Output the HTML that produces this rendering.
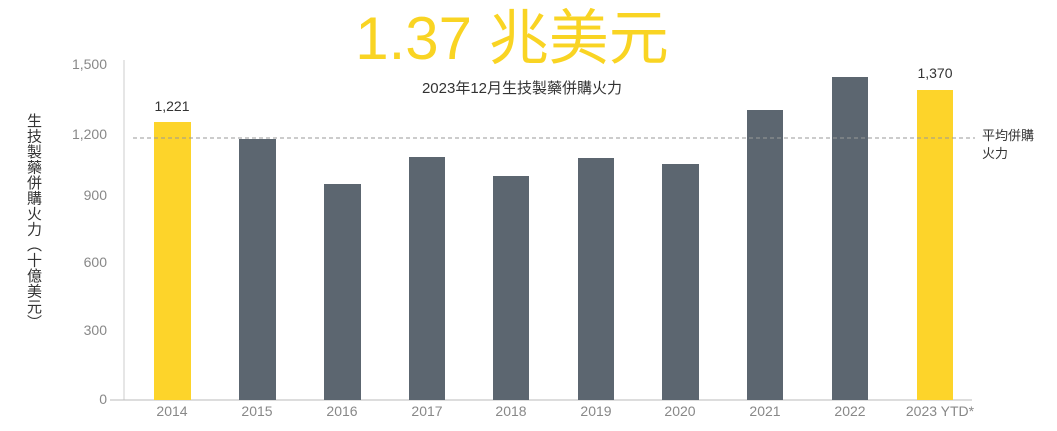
<!DOCTYPE html>
<html><head><meta charset="utf-8"><style>
body{margin:0;width:1057px;height:431px;background:#fff;overflow:hidden;font-family:"Liberation Sans","Noto Sans CJK TC",sans-serif}
.yt{position:absolute;left:23px;top:113px;writing-mode:vertical-rl;font-size:15px;color:#333;line-height:20px;letter-spacing:0.5px}
</style></head><body>
<svg width="1057" height="431" xmlns="http://www.w3.org/2000/svg" font-family="Liberation Sans, Noto Sans CJK TC, sans-serif" style="position:absolute;left:0;top:0">
<text x="512" y="59" text-anchor="middle" font-size="60" fill="#f9d423">1.37 兆美元</text>
<text x="522" y="93" text-anchor="middle" font-size="15" fill="#333">2023年12月生技製藥併購火力</text>
<line x1="124" y1="60" x2="124" y2="400" stroke="#ddd" stroke-width="1.5"/>
<line x1="110" y1="400" x2="972" y2="400" stroke="#bbb" stroke-width="1"/>
<g font-size="14" fill="#888" text-anchor="end">
<text x="107" y="69">1,500</text><text x="107" y="139">1,200</text><text x="107" y="200">900</text>
<text x="107" y="267">600</text><text x="107" y="335">300</text><text x="107" y="404">0</text>
</g>
<g fill="#5c6670">
<rect x="239" y="139" width="37" height="261"/>
<rect x="324" y="184" width="37" height="216"/>
<rect x="409" y="157" width="36" height="243"/>
<rect x="493" y="176" width="36" height="224"/>
<rect x="578" y="158" width="36" height="242"/>
<rect x="662" y="164" width="37" height="236"/>
<rect x="747" y="110" width="36" height="290"/>
<rect x="832" y="77" width="36" height="323"/>
</g>
<g fill="#fdd42a">
<rect x="154" y="122" width="37" height="278"/>
<rect x="917" y="90" width="36" height="310"/>
</g>
<line x1="133" y1="138" x2="975" y2="138" stroke="#999" stroke-width="1" stroke-dasharray="4,3"/>
<g font-size="14" fill="#333" text-anchor="middle">
<text x="172" y="111">1,221</text><text x="935" y="78">1,370</text>
</g>
<g font-size="13" fill="#333"><text x="982" y="140">平均併購</text><text x="982" y="158">火力</text></g>
<g font-size="14" fill="#888" text-anchor="middle">
<text x="172" y="416">2014</text><text x="257" y="416">2015</text><text x="342" y="416">2016</text>
<text x="427" y="416">2017</text><text x="511" y="416">2018</text><text x="596" y="416">2019</text>
<text x="680" y="416">2020</text><text x="765" y="416">2021</text><text x="850" y="416">2022</text>
<text x="940" y="416">2023 YTD*</text>
</g>
</svg>
<div class="yt">生技製藥併購火力（十億美元）</div>
</body></html>
